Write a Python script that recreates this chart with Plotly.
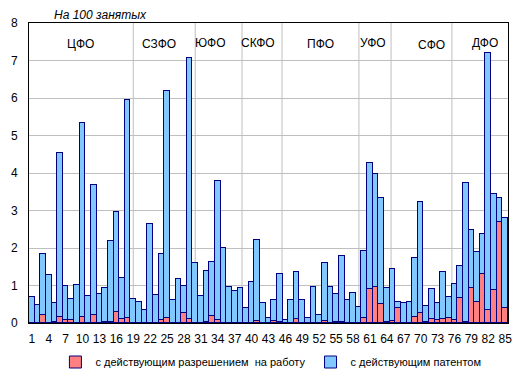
import plotly.graph_objects as go

regions = list(range(1, 86))

permit = [0, 0, 0.21, 0, 0.02, 0.16, 0.08, 0.07, 0, 0.16,
          0, 0.21, 0.01, 0.02, 0.04, 0.29, 0.11, 0.13, 0, 0,
          0, 0, 0, 0.07, 0.13, 0, 0.01, 0.27, 0.11, 0.01,
          0.01, 0.02, 0.20, 0.08, 0.01, 0, 0, 0, 0, 0.01,
          0.05, 0, 0, 0.05, 0.03, 0.01, 0, 0.11, 0, 0,
          0, 0, 0.05, 0, 0.02, 0.02, 0, 0, 0, 0.13,
          0.91, 0.96, 0.51, 0.02, 0.05, 0.40, 0, 0, 0.16, 0.27,
          0.02, 0.11, 0.08, 0.11, 0.13, 0.08, 0.67, 0.02, 0.93, 0.56,
          1.31, 0.35, 0.88, 2.70, 0.40]

patent = [0.70, 0.47, 1.64, 1.29, 0.52, 4.38, 0.91, 0.58, 1.02, 5.17,
          0.72, 3.47, 0.77, 0.92, 2.16, 2.68, 1.10, 5.83, 0.65, 0.56,
          0.35, 2.65, 0.76, 1.78, 6.07, 0.62, 1.16, 0.73, 6.97, 1.60,
          0.72, 1.38, 1.44, 3.71, 2.00, 0.97, 0.85, 0.93, 0.40, 1.08,
          2.16, 0.54, 0.13, 0.56, 1.28, 0.07, 0.62, 1.26, 0.62, 0.13,
          0.97, 0.21, 1.56, 0.97, 0.76, 1.77, 0.62, 0.80, 0.43, 1.80,
          3.37, 3.01, 2.83, 0.92, 1.40, 0.16, 0.54, 0.56, 1.58, 2.97,
          0.44, 0.80, 0.46, 1.26, 0.57, 0.96, 0.86, 3.71, 1.56, 1.34,
          1.07, 6.84, 2.57, 0.63, 2.41]

x_ticks = list(range(1, 86, 3))

districts = ["ЦФО", "СЗФО", "ЮФО", "СКФО", "ПФО", "УФО", "СФО", "ДФО"]
district_label_x = [9.55, 23.57, 32.74, 41.14, 52.14, 61.55, 72.0, 81.4]
district_label_y = [7.43, 7.45, 7.48, 7.48, 7.45, 7.47, 7.41, 7.47]
separators = [19.0, 30.0, 38.3, 45.4, 59.05, 64.75, 75.55]

FONT = "Liberation Sans, Arial, sans-serif"

W, H = 521, 377
ML, MR, MT, MB = 29, 13, 23, 54

fig = go.Figure()
fig.add_trace(go.Bar(
    x=regions, y=permit, name="с действующим разрешением  на работу",
    marker=dict(color="#FF8080", line=dict(color="#000080", width=1)),
))
fig.add_trace(go.Bar(
    x=regions, y=patent, name="с действующим патентом",
    marker=dict(color="#80C8FF", line=dict(color="#000080", width=1)),
))

shapes = []
for s in separators:
    shapes.append(dict(type="line", xref="x", yref="y", x0=s, x1=s, y0=0, y1=8,
                       line=dict(color="#BFBFBF", width=1), layer="below"))

annotations = []
for name, ax, ay in zip(districts, district_label_x, district_label_y):
    annotations.append(dict(x=ax, y=ay, xref="x", yref="y", text=name,
                            showarrow=False, font=dict(size=12, color="#000000", family=FONT)))
annotations.append(dict(x=(100 - ML) / (W - ML - MR), y=(H - MB - 15) / (H - MT - MB),
                        xref="paper", yref="paper", text="<i>На 100 занятых</i>",
                        xanchor="center", yanchor="middle",
                        showarrow=False, font=dict(size=12, color="#000000", family=FONT)))

fig.update_layout(
    width=W, height=H, autosize=False,
    margin=dict(l=ML, r=MR, t=MT, b=MB, autoexpand=False),
    barmode="stack", bargap=0,
    paper_bgcolor="white", plot_bgcolor="white",
    font=dict(family=FONT, size=12, color="#000000"),
    showlegend=True,
    legend=dict(orientation="h", x=0.52, xanchor="center", xref="container",
                y=(H - 362) / H, yanchor="middle", yref="container",
                font=dict(size=11, family=FONT), traceorder="normal"),
    shapes=shapes,
    annotations=annotations,
    xaxis=dict(range=[0.5, 85.5], tickmode="array", tickvals=x_ticks,
               ticktext=[str(t) for t in x_ticks], showgrid=False, zeroline=False,
               showline=True, linecolor="#000000", linewidth=1, mirror=True,
               ticks="", tickfont=dict(size=12), ticklabelstandoff=5, automargin=False),
    yaxis=dict(range=[0, 8], dtick=1, showgrid=True, gridcolor="#BFBFBF", gridwidth=1,
               zeroline=False, showline=True, linecolor="#000000", linewidth=1, mirror=True,
               ticks="", tickfont=dict(size=12), ticklabelstandoff=8, automargin=False),
)

fig.write_html("out.html", config={"displayModeBar": False},
               post_script="document.body.style.margin='0';document.body.style.padding='0';")
